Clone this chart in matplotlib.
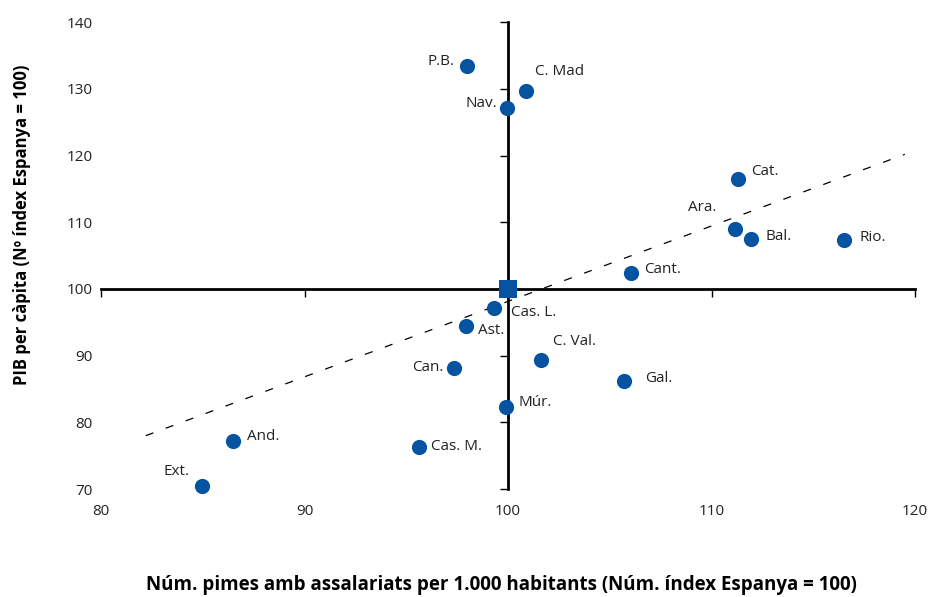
import numpy as np
import matplotlib
matplotlib.use("Agg")
import matplotlib.pyplot as plt

# Regions: SMEs with employees per 1,000 inhabitants vs GDP per capita (Spain = 100)
regions = ["P.B.", "C. Mad", "Nav.", "Cat.", "Ara.", "Bal.", "Rio.", "Cant.",
           "Cas. L.", "Ast.", "C. Val.", "Can.", "Gal.", "Múr.", "And.",
           "Cas. M.", "Ext."]
pimes = [97.97, 100.88, 99.95, 111.32, 111.14, 111.96, 116.51, 106.04,
         99.30, 97.94, 101.62, 97.33, 105.72, 99.89, 86.50, 95.64, 84.95]
pib = [133.45, 129.7, 127.2, 116.5, 109.05, 107.45, 107.35, 102.35,
       97.2, 94.45, 89.35, 88.2, 86.25, 82.35, 77.2, 76.3, 70.5]

spain_x = [100]
spain_y = [100]

trend_x = [82.2, 119.5]
trend_y = [78.0, 120.2]

x_ticks = [80, 90, 100, 110, 120]
y_ticks = [70, 80, 90, 100, 110, 120, 130, 140]

# label placement (pixels from the point, horizontal alignment)
label_offsets = {
    "P.B.": (-12, 4, "right"), "C. Mad": (9, 19, "left"), "Nav.": (-10, 4, "right"),
    "Cat.": (13, 7, "left"), "Ara.": (-18, 21, "right"), "Bal.": (14, 3, "left"),
    "Rio.": (16, 2, "left"), "Cant.": (13, 4, "left"), "Cas. L.": (17, -5, "left"),
    "Ast.": (12, -5, "left"), "C. Val.": (12, 18, "left"), "Can.": (-10, 0, "right"),
    "Gal.": (21, 2, "left"), "Múr.": (13, 4, "left"), "And.": (14, 4, "left"),
    "Cas. M.": (12, 0, "left"), "Ext.": (-12, 14, "right"),
}

blue = "#0553a1"
plt.rcParams["font.family"] = ["Open Sans", "DejaVu Sans"]

fig = plt.figure(figsize=(9.3, 5.97), dpi=100)
rect = [101 / 930, 1 - 489 / 597, 814 / 930, 466.7 / 597]

# axes carrying the cross (spines through Spain = 100)
ax = fig.add_axes(rect)
ax.set_xlim(80, 120)
ax.set_ylim(70, 140)
for side in ["top", "right"]:
    ax.spines[side].set_visible(False)
ax.spines["left"].set_position(("data", 100))
ax.spines["bottom"].set_position(("data", 100))
ax.spines["left"].set_linewidth(2)
ax.spines["bottom"].set_linewidth(2)
ax.set_xticks(x_ticks)
ax.set_yticks(y_ticks)
ax.tick_params(axis="both", direction="out", length=6, width=1,
               labelleft=False, labelbottom=False)
ax.patch.set_alpha(0)

ax.plot(trend_x, trend_y, color="black", linewidth=0.9,
        linestyle=(0, (6.5, 10.5)), zorder=2)
ax.scatter(pimes, pib, s=120, color=blue, zorder=4, clip_on=False,
           linewidths=0)
ax.scatter(spain_x, spain_y, s=150, marker="s", color=blue, zorder=5,
           clip_on=False, linewidths=0)

for name, x, y in zip(regions, pimes, pib):
    dx, dy, ha = label_offsets[name]
    ax.annotate(name, (x, y), xytext=(dx, dy), textcoords="offset pixels",
                ha=ha, va="center", fontsize=11, color="#222222")

# axes carrying the tick labels on the outer edges
ax2 = fig.add_axes(rect, sharex=ax, sharey=ax)
ax2.patch.set_alpha(0)
for side in ax2.spines:
    ax2.spines[side].set_visible(False)
ax2.tick_params(axis="both", length=0, labelsize=11, colors="#222222")
ax2.tick_params(axis="x", pad=11)
ax2.tick_params(axis="y", pad=6)

fig.text(0.0237, 1 - 225 / 597, "PIB per càpita (Nº índex Espanya = 100)",
         rotation=90, ha="center", va="center", fontsize=12,
         fontweight="bold", color="black")
fig.text(501 / 930, 1 - 585 / 597,
         "Núm. pimes amb assalariats per 1.000 habitants (Núm. índex Espanya = 100)",
         ha="center", va="center", fontsize=13.5, fontweight="bold",
         color="black")

fig.savefig("out.png", dpi=100)
